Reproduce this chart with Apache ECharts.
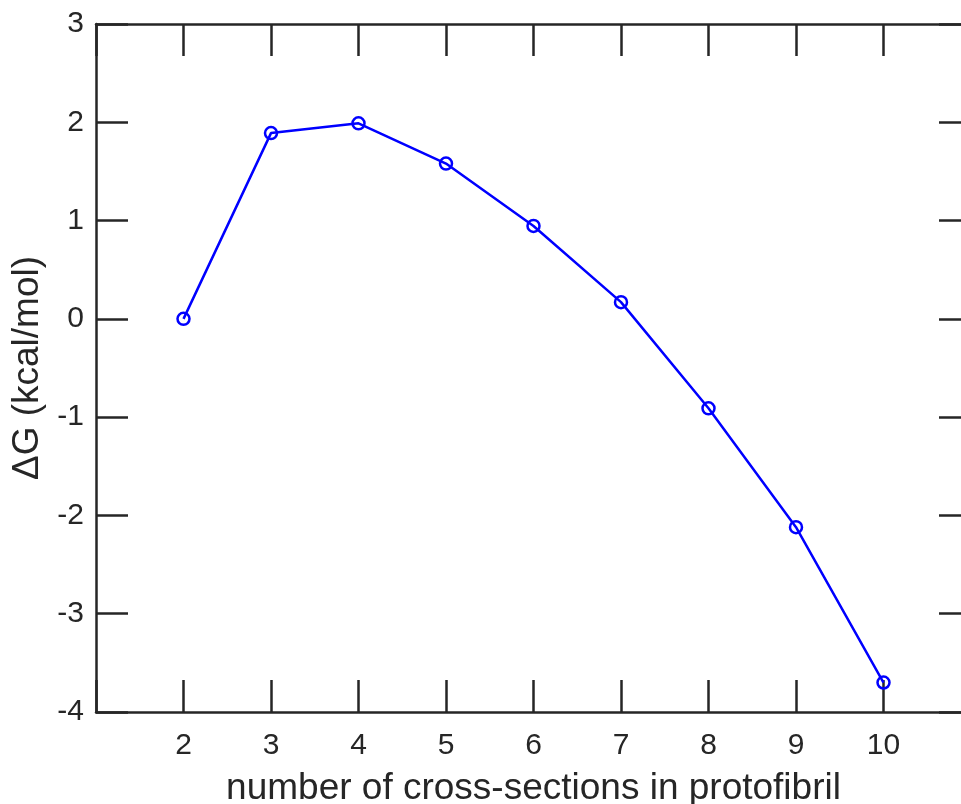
<!DOCTYPE html>
<html>
<head>
<meta charset="utf-8">
<script src="https://cdn.jsdelivr.net/npm/echarts@6/dist/echarts.min.js"></script>
<style>
  html, body { margin: 0; padding: 0; background: #fff; overflow: hidden; }
  #chart { width: 961px; height: 804px; }
</style>
</head>
<body>
<div id="chart"></div>
<script>
// Free energy of a protofibril vs. number of cross-sections
const crossSections = [2, 3, 4, 5, 6, 7, 8, 9, 10];
const deltaG = [0.0, 1.89, 1.99, 1.58, 0.945, 0.17, -0.91, -2.12, -3.70];
const xTickLabels = ['2', '3', '4', '5', '6', '7', '8', '9', '10'];
const yTickLabels = ['-4', '-3', '-2', '-1', '0', '1', '2', '3'];

const ink = '#262626';
const font = '"Liberation Sans", Arial, Helvetica, sans-serif';

const chart = echarts.init(document.getElementById('chart'), null, { renderer: 'canvas' });

const frameAxis = {
  axisLine: { show: true, onZero: false, lineStyle: { color: ink, width: 2.5 } },
  axisTick: { show: true, inside: true, length: 32, lineStyle: { color: ink, width: 2.5 } },
  splitLine: { show: false }
};

chart.setOption({
  animation: false,
  backgroundColor: '#ffffff',
  // plot box runs slightly past the right edge of the canvas
  grid: {
    left: 96, top: 24, width: 875, height: 688,
    containLabel: false, outerBoundsMode: 'none'
  },
  xAxis: [
    Object.assign({
      type: 'value', position: 'bottom', min: 1, max: 11, interval: 1,
      name: 'number of cross-sections in protofibril',
      nameLocation: 'middle', nameGap: 58,
      nameTextStyle: { color: ink, fontSize: 37, fontFamily: font },
      axisLabel: {
        color: ink, fontSize: 30, fontFamily: font, margin: 19,
        formatter: v => xTickLabels.includes(String(v)) ? String(v) : ''
      }
    }, frameAxis),
    Object.assign({
      type: 'value', position: 'top', min: 1, max: 11, interval: 1,
      axisLabel: { show: false }
    }, frameAxis)
  ],
  yAxis: [
    Object.assign({
      type: 'value', position: 'left', min: -4, max: 3, interval: 1,
      name: 'ΔG (kcal/mol)',
      nameLocation: 'middle', nameGap: 50,
      nameTextStyle: { color: ink, fontSize: 37, fontFamily: font },
      axisLabel: {
        color: ink, fontSize: 30, fontFamily: font, margin: 12,
        formatter: v => yTickLabels.includes(String(v)) ? String(v) : ''
      }
    }, frameAxis),
    Object.assign({
      type: 'value', position: 'right', min: -4, max: 3, interval: 1,
      axisLabel: { show: false }
    }, frameAxis)
  ],
  series: [{
    type: 'line',
    xAxisIndex: 0,
    yAxisIndex: 0,
    data: crossSections.map((x, i) => [x, deltaG[i]]),
    lineStyle: { color: '#0000ff', width: 2.5 },
    symbol: 'circle',
    symbolSize: 12,
    // open circle markers: the line stays visible through them
    itemStyle: { color: 'transparent', borderColor: '#0000ff', borderWidth: 2.5 },
    showSymbol: true
  }]
});
</script>
</body>
</html>
